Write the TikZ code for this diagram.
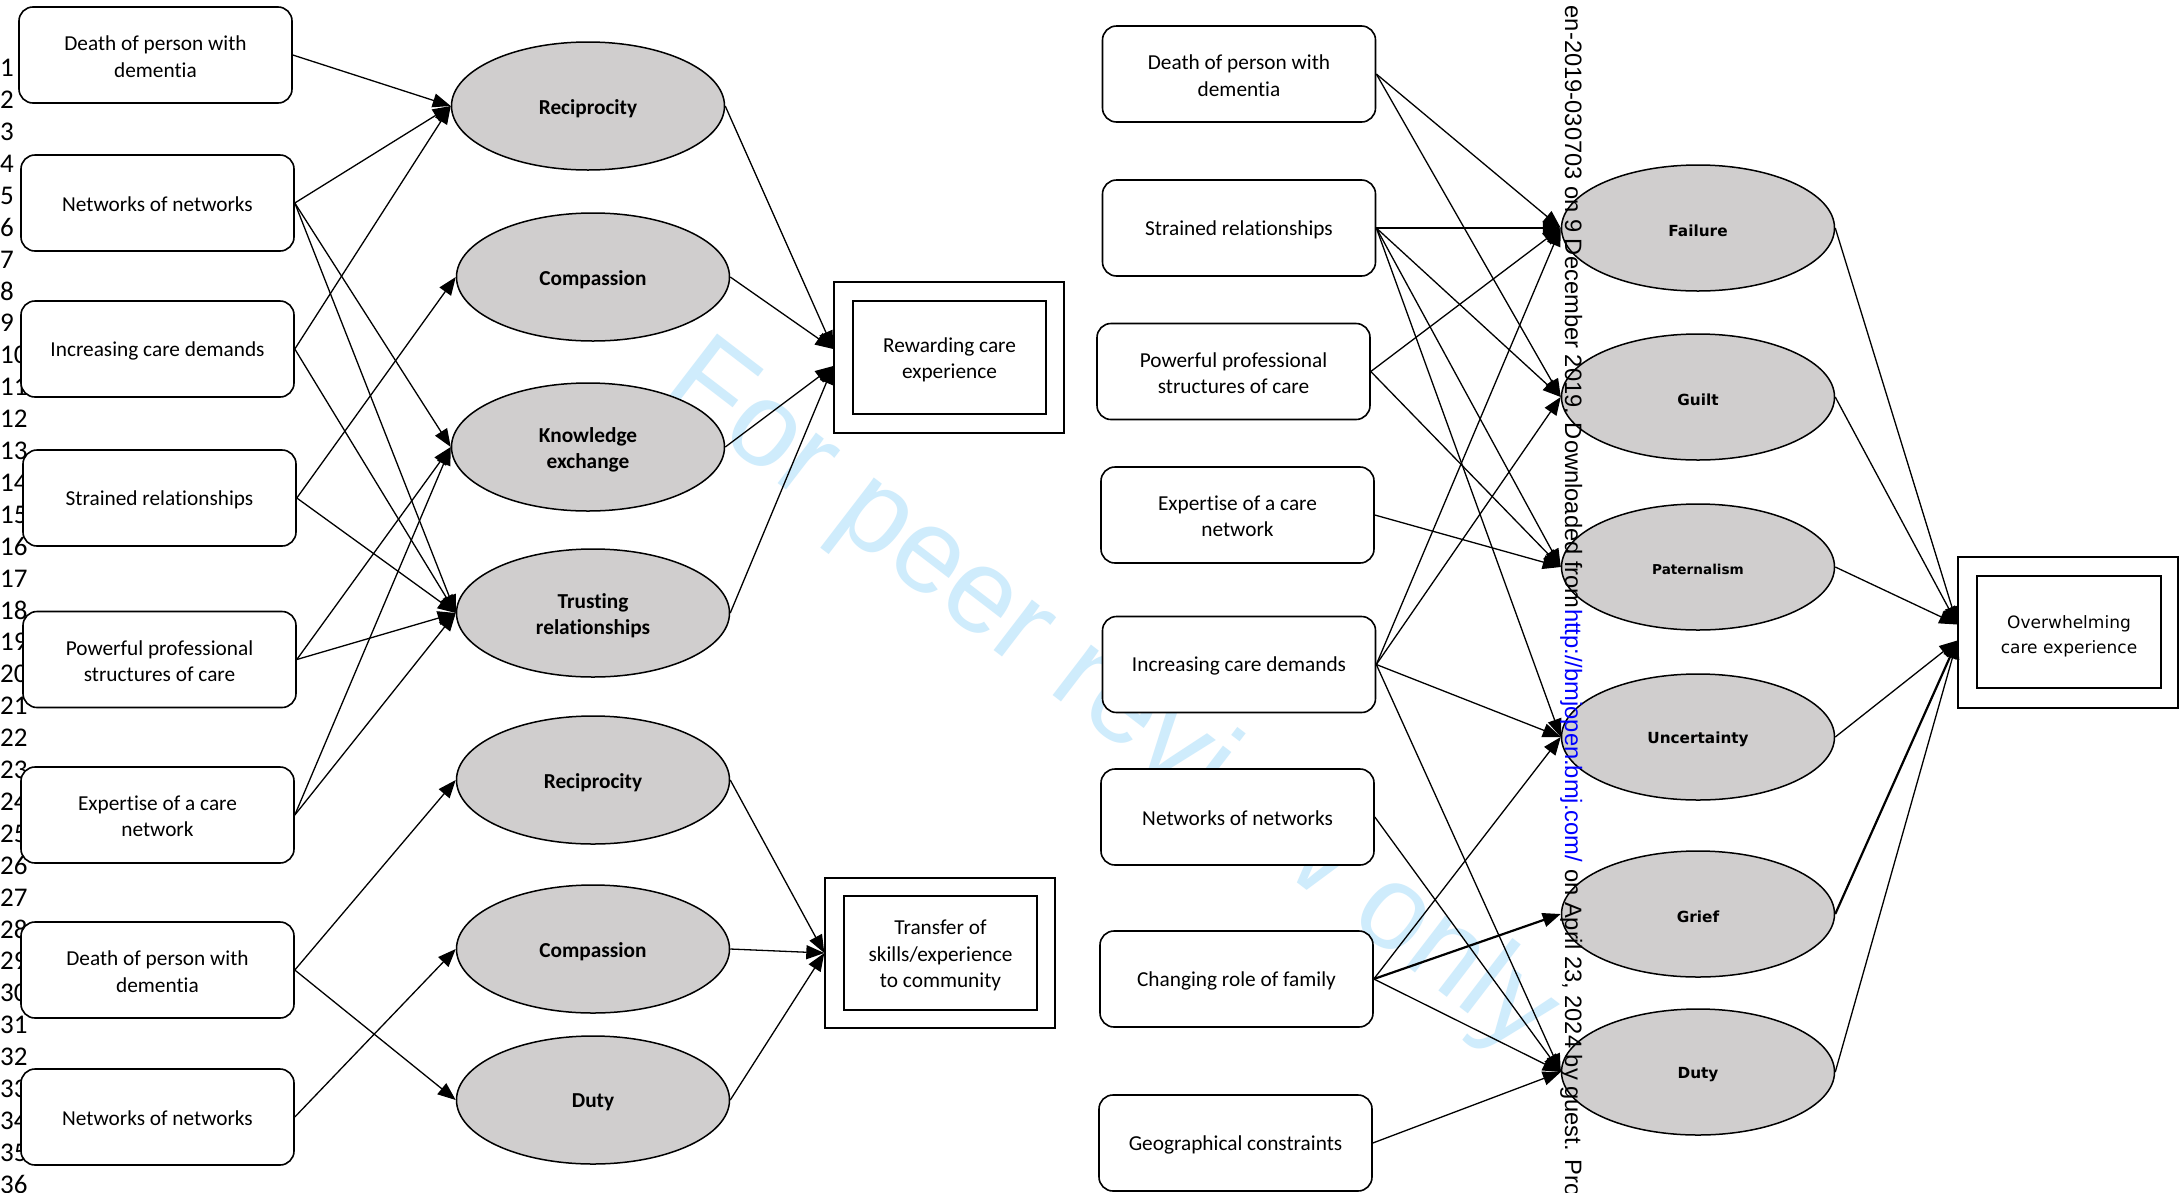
\documentclass[tikz,border=0pt]{standalone}
\usepackage{fontspec}
\setmainfont{Carlito}[Ligatures=NoCommon]
\newfontfamily\widesans{DejaVu Sans}
\newfontfamily\arialfont{Liberation Sans}
\usetikzlibrary{shapes.geometric,arrows.meta}
\definecolor{ovalgray}{RGB}{208,206,206}
\definecolor{wmblue}{RGB}{207,236,252}
\definecolor{linkblue}{RGB}{0,0,255}
% set a line a little lower inside its box without changing the box size
\newcommand{\lowered}[2][2.6pt]{\raisebox{-#1}[\height][\depth]{#2}}

\begin{document}
\begin{tikzpicture}[x=1pt,y=-1pt,
  factor/.style={draw, rounded corners=14pt, line width=1.6pt, fill=white,
    minimum width=273pt, minimum height=96pt, align=center, inner sep=0pt,
    font=\fontsize{21.3}{26.4}\selectfont},
  theme/.style={ellipse, draw, line width=1.5pt, fill=ovalgray,
    minimum width=273pt, minimum height=128pt, inner sep=0pt, align=center,
    font=\fontsize{21.3}{26.4}\selectfont\bfseries},
  emotion/.style={ellipse, draw, line width=1.5pt, fill=ovalgray,
    minimum width=273pt, minimum height=126pt, inner sep=0pt,
    font=\widesans\bfseries\fontsize{15.3}{18}\selectfont},
  outerbox/.style={draw, line width=1.4pt, fill=white, inner sep=0pt},
  innerbox/.style={draw, line width=2pt, fill=white, inner sep=0pt, align=center},
  link/.style={line width=1.3pt, -{Triangle[length=18pt,width=14pt]}},
  heavy/.style={line width=2.2pt, -{Triangle[length=18pt,width=14pt]}},
  lineno/.style={anchor=west, inner sep=0pt, font=\fontsize{27}{27}\selectfont},
  margintext/.style={rotate=-90, inner sep=0pt, font=\arialfont\fontsize{23.7}{23.7}\selectfont},
]
\useasboundingbox (0,0) rectangle (2179,1192);
\fill[white] (0,0) rectangle (2179,1192);

% diagonal review stamp
\node[rotate=-37.5, text=wmblue, inner sep=0pt,
  font=\arialfont\fontsize{120}{120}\selectfont] (stamp) at (1110,700) {For peer review only};

% line numbers
\foreach \n in {1,...,36}
  \node[lineno] (num\n) at (0,{68+(\n-1)*31.9}) {\n};

% ---- left panel: factors ----
\node[factor] (a1) at (155.5,55)  {\lowered[1.5pt]{Death of person with}\\\lowered[1.5pt]{dementia}};
\node[factor] (a2) at (157.5,203) {\lowered[1.5pt]{Networks of networks}};
\node[factor] (a3) at (157.5,349) {\lowered[1.5pt]{Increasing care demands}};
\node[factor] (a4) at (159.5,498) {\lowered[1.5pt]{Strained relationships}};
\node[factor] (a5) at (159.5,659.5) {\lowered[1.5pt]{Powerful professional}\\\lowered[1.5pt]{structures of care}};
\node[factor] (a6) at (157.5,815) {\lowered[1.5pt]{Expertise of a care}\\\lowered[1.5pt]{network}};
\node[factor] (a7) at (157.5,970) {\lowered[1.5pt]{Death of person with}\\\lowered[1.5pt]{dementia}};
\node[factor] (a8) at (157.5,1117) {\lowered[1.5pt]{Networks of networks}};

% ---- left panel: themes ----
\node[theme] (t1) at (588,106)  {\lowered{Reciprocity}};
\node[theme] (t2) at (593,277)  {\lowered{Compassion}};
\node[theme] (t3) at (588,447)  {\lowered{Knowledge}\\\lowered{exchange}};
\node[theme] (t4) at (593,613)  {\lowered{Trusting}\\\lowered{relationships}};
\node[theme] (t5) at (593,780)  {\lowered{Reciprocity}};
\node[theme] (t6) at (593,949)  {\lowered{Compassion}};
\node[theme] (t7) at (593,1100) {\lowered{Duty}};

% ---- left panel: outcomes ----
\node[outerbox, minimum width=230pt, minimum height=151pt] (rew) at (949,357.5) {};
\node[innerbox, minimum width=193pt, minimum height=113pt,
  font=\fontsize{21.3}{26.4}\selectfont] (rewin) at (949.5,357.5)
  {\lowered{Rewarding care}\\\lowered{experience}};
\node[outerbox, minimum width=230pt, minimum height=150pt] (tra) at (940,953) {};
\node[innerbox, minimum width=193pt, minimum height=114pt,
  font=\fontsize{21.3}{26.4}\selectfont] (train) at (940.5,953)
  {\lowered{Transfer of}\\\lowered{skills/experience}\\\lowered{to community}};

% ---- right panel: factors ----
\node[factor] (b1) at (1239,74)    {\lowered[1.5pt]{Death of person with}\\\lowered[1.5pt]{dementia}};
\node[factor] (b2) at (1239,228)   {\lowered[1.5pt]{Strained relationships}};
\node[factor] (b3) at (1233.5,371.5) {\lowered[1.5pt]{Powerful professional}\\\lowered[1.5pt]{structures of care}};
\node[factor] (b4) at (1237.5,515) {\lowered[1.5pt]{Expertise of a care}\\\lowered[1.5pt]{network}};
\node[factor] (b5) at (1239,664.5) {\lowered[1.5pt]{Increasing care demands}};
\node[factor] (b6) at (1237.5,817) {\lowered[1.5pt]{Networks of networks}};
\node[factor] (b7) at (1236.5,979) {\lowered[1.5pt]{Changing role of family}};
\node[factor] (b8) at (1235.5,1143) {\lowered[1.5pt]{Geographical constraints}};

% ---- right panel: emotions ----
\node[emotion] (m1) at (1698,228)  {\lowered{Failure}};
\node[emotion] (m2) at (1698,397)  {\lowered{Guilt}};
\node[emotion, font=\widesans\bfseries\fontsize{13.6}{16}\selectfont] (m3) at (1698,567) {\lowered{Paternalism}};
\node[emotion] (m4) at (1698,737)  {\lowered{Uncertainty}};
\node[emotion] (m5) at (1698,914)  {\lowered{Grief}};
\node[emotion] (m6) at (1698,1072) {\lowered{Duty}};

% ---- right panel: outcome ----
\node[outerbox, minimum width=220pt, minimum height=151pt] (ovw) at (2068,632.5) {};
\node[innerbox, minimum width=184pt, minimum height=112pt,
  font=\widesans\fontsize{17}{25.5}\selectfont] (ovwin) at (2069,632)
  {\lowered[4.5pt]{Overwhelming}\\\lowered[4.5pt]{care experience}};

% arrow landing points on the outcome boxes
\coordinate (rewU) at ([yshift=8.5pt]rew.west);
\coordinate (rewL) at ([yshift=-8.5pt]rew.west);
\coordinate (ovwU) at ([yshift=8pt]ovw.west);
\coordinate (ovwL) at ([yshift=-8pt]ovw.west);

% ---- left panel connectors ----
\foreach \s/\t in {a1/t1, a2/t1, a3/t1, a2/t3, a2/t4, a3/t4, a4/t2, a4/t4,
                   a5/t3, a5/t4, a6/t3, a6/t4, a7/t5, a7/t7, a8/t6}
  \draw[link] (\s.east) -- (\t.west);
\draw[link] (t1.east) -- (rewU);
\draw[link] (t2.east) -- (rewU);
\draw[link] (t3.east) -- (rewL);
\draw[link] (t4.east) -- (rewL);
\foreach \s in {t5,t6,t7}
  \draw[link] (\s.east) -- (tra.west);

% ---- right panel connectors ----
\foreach \s/\t in {b1/m1, b1/m2, b2/m1, b2/m2, b2/m3, b2/m4, b3/m1, b3/m3,
                   b4/m3, b5/m1, b5/m2, b5/m4, b5/m6, b6/m6, b7/m4, b7/m6, b8/m6}
  \draw[link] (\s.east) -- (\t.west);
\draw[heavy] (b7.east) -- (m5.west);
\draw[link] (m1.east) -- (ovwU);
\draw[link] (m2.east) -- (ovwU);
\draw[link] (m3.east) -- (ovwU);
\draw[link] (m4.east) -- (ovwL);
\draw[heavy] (m5.east) -- (ovwL);
\draw[link] (m6.east) -- (ovwL);

% ---- vertical download note ----
\node[margintext, anchor=base west, text=linkblue] (url) at (1565,609) {http://bmjopen.bmj.com/};
\node[margintext, anchor=base east] (pre) at (url.base west) {en-2019-030703 on 9 December 2019. Downloaded from~};
\node[margintext, anchor=base west] (post) at (url.base east) {~on April 23, 2024 by guest. Pro};
\end{tikzpicture}
\end{document}
